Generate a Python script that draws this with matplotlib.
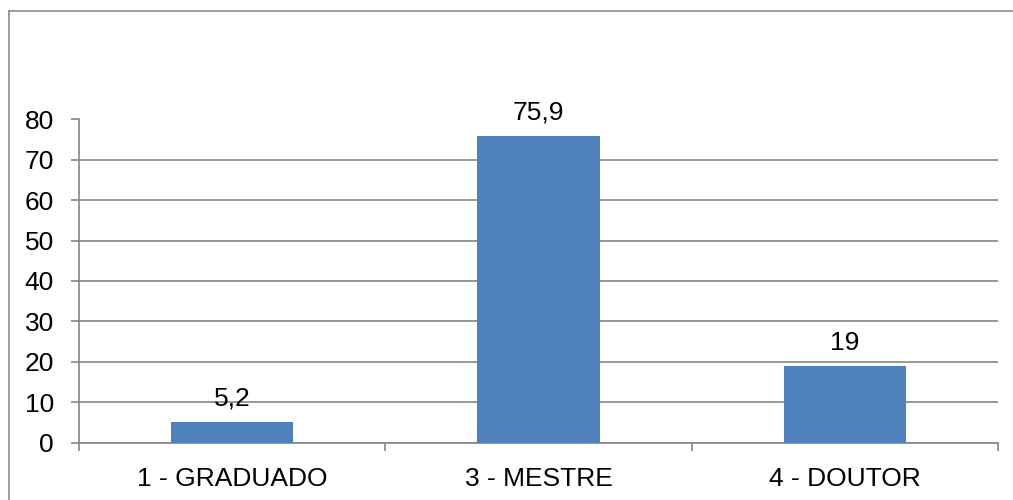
import matplotlib
matplotlib.use("Agg")
import matplotlib.pyplot as plt
from matplotlib.lines import Line2D

categories = ["1 - GRADUADO", "3 - MESTRE", "4 - DOUTOR"]
values = [5.2, 75.9, 19]
value_labels = ["5,2", "75,9", "19"]
y_ticks = [0, 10, 20, 30, 40, 50, 60, 70, 80]

plt.rcParams['font.family'] = ['Liberation Sans', 'DejaVu Sans']

W, H = 1013, 500
fig = plt.figure(figsize=(W / 100, H / 100), dpi=100)
ax = fig.add_axes([79 / W, 1 - 442.5 / H, (998 - 79) / W, (442.5 - 119.5) / H])

grid_c = "#868686"
FS = 19
x = list(range(len(categories)))
ax.bar(x, values, width=0.4, color="#4F81BD", zorder=3)

for xi, v, lab in zip(x, values, value_labels):
    ax.annotate(lab, (xi, v), xytext=(0, 8), textcoords="offset points",
                ha="center", va="bottom", fontsize=FS, color="black", zorder=5)

ax.set_xlim(-0.5, 2.5)
ax.set_ylim(0, 80)
ax.set_yticks(y_ticks)
ax.set_yticklabels([str(t) for t in y_ticks])
ax.yaxis.grid(True, color=grid_c, linewidth=1.2, zorder=0)
ax.set_axisbelow(True)

ax.set_xticks(x)
ax.set_xticklabels(categories)
ax.set_xticks([-0.5, 0.5, 1.5, 2.5], minor=True)
ax.tick_params(axis="x", which="major", length=0, pad=18, labelsize=FS)
ax.tick_params(axis="x", which="minor", length=6, width=1.2, color=grid_c, direction="out")
ax.tick_params(axis="y", length=6, width=1.2, color=grid_c, pad=12, labelsize=FS)

for s in ["top", "right"]:
    ax.spines[s].set_visible(False)
for s in ["left", "bottom"]:
    ax.spines[s].set_color(grid_c)
    ax.spines[s].set_linewidth(1.2)

# outer chart border (top and left visible)
fig.add_artist(Line2D([8.5 / W, 8.5 / W], [0, 1 - 11 / H], transform=fig.transFigure,
                      color="#8c8c8c", linewidth=1.2))
fig.add_artist(Line2D([8.5 / W, 1], [1 - 11 / H, 1 - 11 / H], transform=fig.transFigure,
                      color="#8c8c8c", linewidth=1.2))

fig.savefig("out.png", dpi=100, facecolor="white")
